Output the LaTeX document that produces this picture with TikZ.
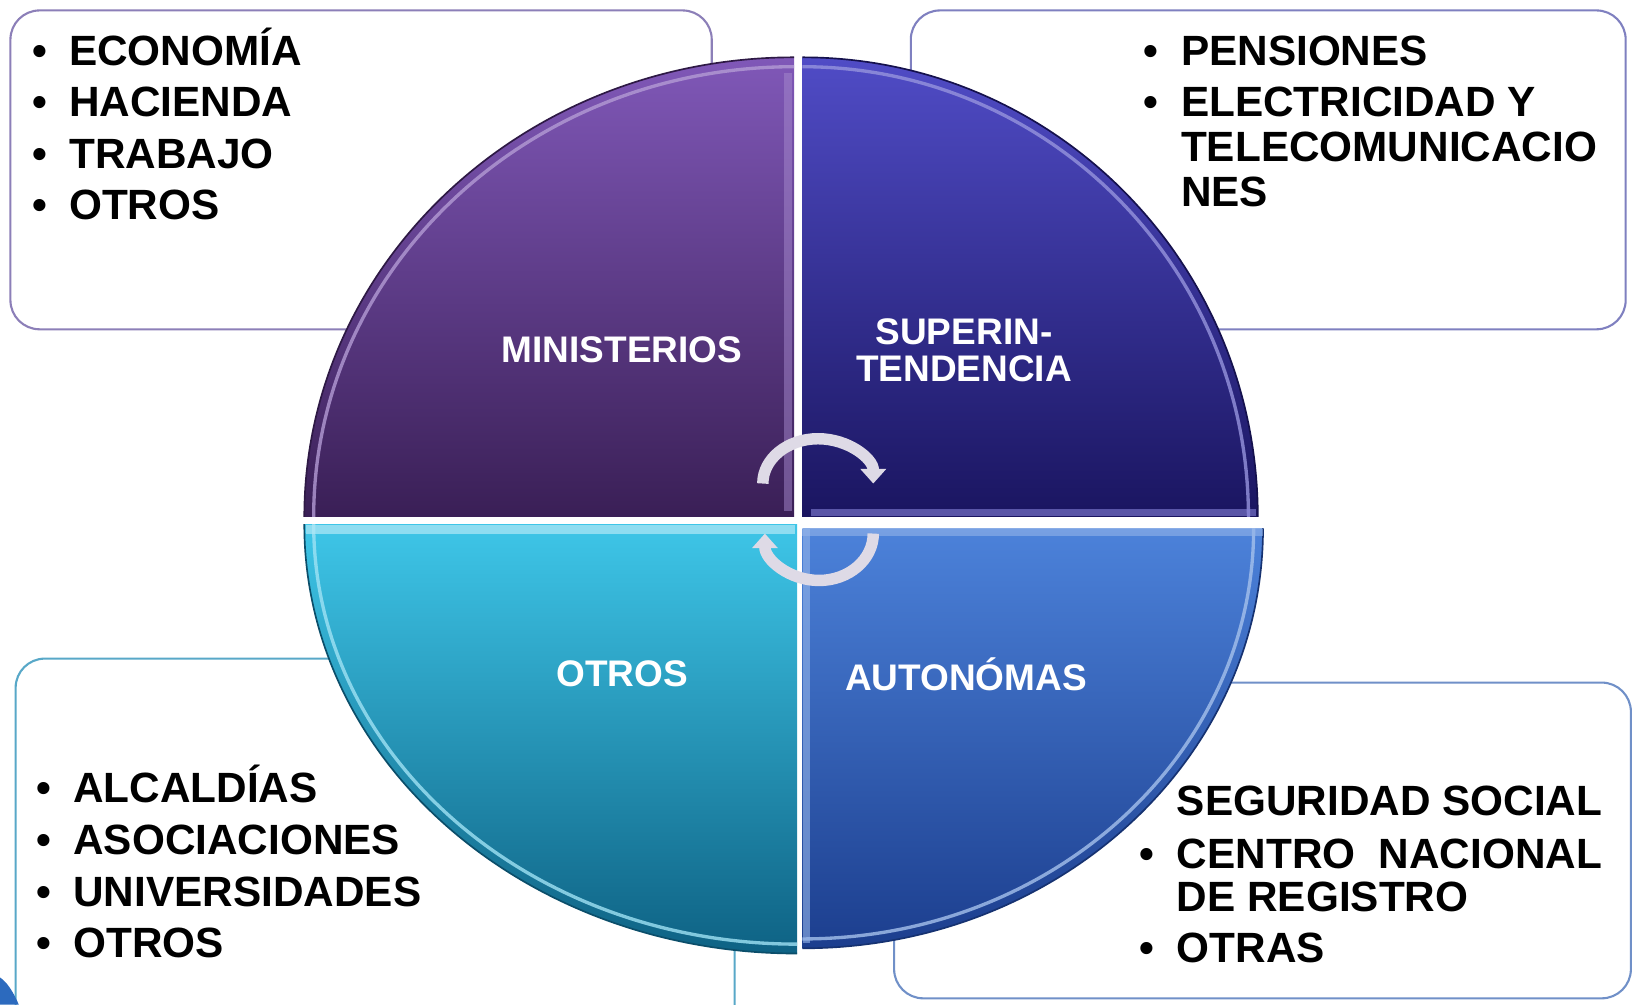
\documentclass[tikz,border=0pt]{standalone}
\usepackage{fontspec}
\setmainfont{Liberation Sans}
\usetikzlibrary{arrows.meta}
\definecolor{tlTop}{RGB}{128,88,184}
\definecolor{tlBot}{RGB}{58,31,86}
\definecolor{trTop}{RGB}{80,76,198}
\definecolor{trBot}{RGB}{26,21,96}
\definecolor{blTop}{RGB}{62,198,232}
\definecolor{blBot}{RGB}{14,98,132}
\definecolor{brTop}{RGB}{76,130,218}
\definecolor{brBot}{RGB}{28,62,142}
\definecolor{tlBorder}{RGB}{140,127,184}
\definecolor{trBorder}{RGB}{127,128,192}
\definecolor{blBorder}{RGB}{88,168,200}
\definecolor{brBorder}{RGB}{112,144,200}
\definecolor{cycgray}{RGB}{222,218,230}
\definecolor{blobblue}{RGB}{44,106,190}
\begin{document}
\begin{tikzpicture}[x=0.5pt,y=-0.5pt,
  infobox/.style={line width=1pt, fill=white, rounded corners=14pt},
  item/.style={anchor=base west, inner sep=0pt, text=black,
    font=\bfseries\fontsize{20.3}{24}\selectfont},
  qlabel/.style={text=white, inner sep=0pt, align=center,
    font=\bfseries\fontsize{17.75}{18}\selectfont},
  cyc/.style={line width=5.5pt, draw=cycgray, -{Triangle[width=12pt,length=7pt]}},
  rim/.style={line width=1.6pt},
  edge/.style={line width=0.8pt},
]
\useasboundingbox (0,0) rectangle (1568,964);
\fill[white] (0,0) rectangle (1568,964);

% info boxes
\draw[infobox, draw=tlBorder] (10,10) rectangle (683,316);
\draw[infobox, draw=trBorder] (874,10) rectangle (1560,316);
\draw[infobox, draw=blBorder] (15,632) rectangle (705,995);
\draw[infobox, draw=brBorder] (858,655) rectangle (1565,958);
\fill[blobblue] (0,938) .. controls (6,942) and (12,950) .. (18,964) -- (0,964) -- cycle;

% quadrants
\shade[top color=tlTop, bottom color=tlBot]
  (762,496) -- (292,496) arc[start angle=180,end angle=270,x radius=470,y radius=441] -- cycle;
\draw[edge, tlBot!80!black] (292,496) arc[start angle=180,end angle=270,x radius=470,y radius=441];
\draw[rim, tlTop!60!white, opacity=0.8] (301,496) arc[start angle=180,end angle=270,x radius=461,y radius=432];
\fill[tlTop!70!white, opacity=0.5] (752,70) rectangle (760,490);

\shade[top color=trTop, bottom color=trBot]
  (770,496) -- (770,55) arc[start angle=270,end angle=360,x radius=437,y radius=441] -- cycle;
\draw[edge, trBot!80!black] (770,55) arc[start angle=270,end angle=360,x radius=437,y radius=441];
\draw[rim, trTop!60!white, opacity=0.8] (770,64) arc[start angle=270,end angle=360,x radius=428,y radius=432];
\fill[trTop!70!white, opacity=0.6] (778,488) rectangle (1205,495);

\shade[top color=blTop, bottom color=blBot]
  (765,503) -- (765,915) arc[start angle=90,end angle=180,x radius=473,y radius=412] -- cycle;
\draw[edge, blBot!80!black] (765,915) arc[start angle=90,end angle=180,x radius=473,y radius=412];
\draw[rim, blTop!50!white, opacity=0.8] (765,906) arc[start angle=90,end angle=180,x radius=464,y radius=403];
\fill[blTop!40!white, opacity=0.7] (294,504) rectangle (763,512);

\shade[top color=brTop, bottom color=brBot]
  (770,507) -- (1212,507) arc[start angle=0,end angle=90,x radius=442,y radius=403] -- cycle;
\draw[edge, brBot!80!black] (1212,507) arc[start angle=0,end angle=90,x radius=442,y radius=403];
\draw[rim, brTop!50!white, opacity=0.8] (1203,507) arc[start angle=0,end angle=90,x radius=433,y radius=394];
\fill[brTop!60!white, opacity=0.6] (770,508) rectangle (1212,514);
\fill[brTop!60!white, opacity=0.6] (771,508) rectangle (777,905);

% cycle arrows
\draw[cyc] (732,464) arc[start angle=180,end angle=360,x radius=53,y radius=43];
\draw[cyc] (838,512) arc[start angle=0,end angle=180,x radius=52,y radius=45];

% quadrant labels
\node[qlabel] (ministerios) at (597,336) {MINISTERIOS};
\node[qlabel] (superin) at (925,336) {SUPERIN-\\TENDENCIA};
\node[qlabel] (otrosq) at (597,647) {OTROS};
\node[qlabel] (autonomas) at (927,647) {AUTONÓMAS};

% top-left list
\node[item] (tl1) at (31,63) {\makebox[17.5pt][l]{•}ECONOMÍA};
\node[item] (tl2) at (31,112) {\makebox[17.5pt][l]{•}HACIENDA};
\node[item] (tl3) at (31,162) {\makebox[17.5pt][l]{•}TRABAJO};
\node[item] (tl4) at (31,211) {\makebox[17.5pt][l]{•}OTROS};

% top-right list
\node[item] (tr1) at (1097,63) {\makebox[18pt][l]{•}PENSIONES};
\node[item] (tr2) at (1097,112) {\makebox[18pt][l]{•}ELECTRICIDAD Y};
\node[item] (tr3) at (1133,155) {TELECOMUNICACIO};
\node[item] (tr4) at (1133,198) {NES};

% bottom-left list
\node[item] (bl1) at (35,770) {\makebox[17.5pt][l]{•}ALCALDÍAS};
\node[item] (bl2) at (35,820) {\makebox[17.5pt][l]{•}ASOCIACIONES};
\node[item] (bl3) at (35,870) {\makebox[17.5pt][l]{•}UNIVERSIDADES};
\node[item] (bl4) at (35,919) {\makebox[17.5pt][l]{•}OTROS};

% bottom-right list
\node[item] (br1) at (1129,783) {SEGURIDAD SOCIAL};
\node[item] (br2) at (1093,833) {\makebox[18pt][l]{•}\makebox[204pt][s]{CENTRO\hfil NACIONAL}};
\node[item] (br3) at (1129,875) {DE REGISTRO};
\node[item] (br4) at (1093,924) {\makebox[18pt][l]{•}OTRAS};
\end{tikzpicture}
\end{document}
